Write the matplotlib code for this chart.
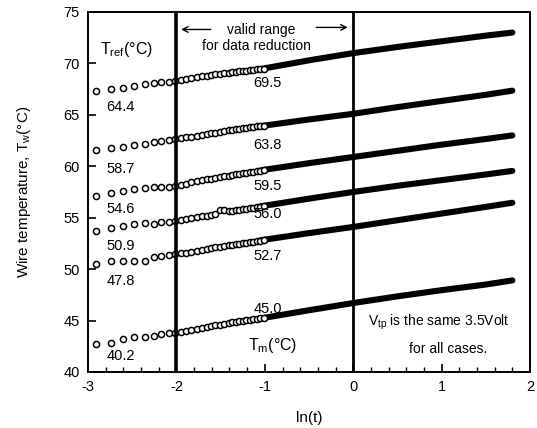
import numpy as np
import matplotlib
matplotlib.use("Agg")
import matplotlib.pyplot as plt

plt.rcParams['font.family'] = ['Liberation Sans', 'DejaVu Sans']
plt.rcParams['mathtext.fontset'] = 'custom'
plt.rcParams['mathtext.rm'] = 'Liberation Sans'
plt.rcParams['mathtext.it'] = 'Liberation Sans'
plt.rcParams['axes.unicode_minus'] = False

# ln(t) positions of the individually visible circles (sparse + overlapping part)
x_circles = [-2.91, -2.74, -2.60, -2.48, -2.36, -2.25, -2.17, -2.09, -2.02,
             -1.95, -1.89, -1.83, -1.77, -1.71, -1.66, -1.61, -1.56, -1.51,
             -1.46, -1.41, -1.37, -1.33, -1.29, -1.25, -1.21, -1.17, -1.13,
             -1.09, -1.05, -1.01]
# ln(t) positions along the dense (solid) band
x_band = [-1.05, -0.5, 0.0, 0.5, 1.0, 1.5, 1.8]

# wire temperature, one list per run (circles part)
tw1_circ = [67.33, 67.47, 67.57, 67.83, 68.0, 68.07, 68.17, 68.2, 68.3,
            68.4, 68.48, 68.55, 68.65, 68.75, 68.8, 68.88, 68.95, 69.0,
            69.05, 69.1, 69.15, 69.2, 69.25, 69.3, 69.3, 69.35, 69.4,
            69.45, 69.48, 69.5]
tw2_circ = [61.57, 61.74, 61.9, 62.06, 62.16, 62.35, 62.48, 62.55, 62.62,
            62.72, 62.8, 62.88, 62.97, 63.05, 63.12, 63.2, 63.27, 63.35,
            63.42, 63.5, 63.55, 63.6, 63.65, 63.7, 63.75, 63.8, 63.85,
            63.88, 63.92, 63.95]
tw3_circ = [57.1, 57.43, 57.62, 57.76, 57.88, 58.0, 58.0, 58.0, 58.08,
            58.2, 58.3, 58.42, 58.52, 58.63, 58.72, 58.8, 58.88, 58.95,
            59.02, 59.1, 59.15, 59.22, 59.28, 59.33, 59.38, 59.43, 59.48,
            59.53, 59.58, 59.62]
tw4_circ = [53.73, 53.96, 54.19, 54.38, 54.45, 54.38, 54.55, 54.6, 54.67,
            54.8, 54.88, 54.95, 55.05, 55.12, 55.2, 55.3, 55.38, 55.7,
            55.72, 55.62, 55.65, 55.7, 55.75, 55.8, 55.85, 55.92, 55.98,
            56.03, 56.08, 56.12]
tw5_circ = [50.5, 50.79, 50.79, 50.82, 50.82, 51.15, 51.27, 51.37, 51.47,
            51.52, 51.58, 51.68, 51.8, 51.9, 51.97, 52.03, 52.1, 52.18,
            52.25, 52.32, 52.38, 52.42, 52.48, 52.53, 52.58, 52.63, 52.68,
            52.72, 52.77, 52.82]
tw6_circ = [42.72, 42.85, 43.18, 43.37, 43.43, 43.5, 43.69, 43.76, 43.82,
            43.92, 43.98, 44.08, 44.2, 44.3, 44.38, 44.45, 44.52, 44.6,
            44.68, 44.75, 44.82, 44.88, 44.93, 44.98, 45.03, 45.08, 45.12,
            45.17, 45.21, 45.25]

# wire temperature along the dense band
tw1_band = [69.45, 70.3, 71.0, 71.6, 72.15, 72.7, 73.0]
tw2_band = [63.9, 64.55, 65.1, 65.75, 66.35, 66.95, 67.35]
tw3_band = [59.6, 60.3, 60.9, 61.5, 62.1, 62.65, 63.0]
tw4_band = [56.1, 56.85, 57.5, 58.1, 58.65, 59.2, 59.55]
tw5_band = [52.8, 53.5, 54.1, 54.75, 55.4, 56.05, 56.45]
tw6_band = [45.2, 46.0, 46.7, 47.35, 47.95, 48.5, 48.9]

t_ref = ['64.4', '58.7', '54.6', '50.9', '47.8', '40.2']
t_ref_y = [65.75, 59.7, 55.84, 52.26, 48.85, 41.55]
t_m = ['69.5', '63.8', '59.5', '56.0', '52.7', '45.0']
t_m_y = [68.1, 62.1, 58.08, 55.35, 51.27, 46.12]

circ_sets = [tw1_circ, tw2_circ, tw3_circ, tw4_circ, tw5_circ, tw6_circ]
band_sets = [tw1_band, tw2_band, tw3_band, tw4_band, tw5_band, tw6_band]

fig = plt.figure(figsize=(5.37, 4.28), dpi=100)
ax = fig.add_axes([0.164, 0.131, 0.823, 0.841])

for yc, yb in zip(circ_sets, band_sets):
    ax.plot(x_band, yb, '-', color='black', lw=4.4, solid_capstyle='round')
    ax.plot(x_circles, yc, 'o', mfc='white', mec='black', ms=4.4, mew=1.1)

# boundaries of the valid range
ax.axvline(-2, color='black', lw=2.6)
ax.axvline(0, color='black', lw=2.0)

# labels next to each run
for lab, y in zip(t_ref, t_ref_y):
    ax.text(-2.79, y, lab, fontsize=10.5, va='center', ha='left')
for lab, y in zip(t_m, t_m_y):
    ax.text(-1.13, y, lab, fontsize=10.5, va='center', ha='left')

ax.text(-2.86, 71.4, r'T$_{\rm ref}$(°C)', fontsize=11.5, va='center', ha='left')
ax.text(-1.19, 42.6, r'T$_{\rm m}$(°C)', fontsize=11.5, va='center', ha='left')

ax.text(-1.04, 73.2, 'valid range', fontsize=10, va='center', ha='center')
ax.text(-1.09, 71.7, 'for data reduction', fontsize=10, va='center', ha='center')
ax.annotate('', xy=(-1.98, 73.3), xytext=(-1.58, 73.3),
            arrowprops=dict(arrowstyle='->', color='black', lw=1.0))
ax.annotate('', xy=(-0.03, 73.5), xytext=(-0.45, 73.5),
            arrowprops=dict(arrowstyle='->', color='black', lw=1.0))

ax.text(0.17, 44.86, r'V$_{\rm tp}$ is the same 3.5Volt', fontsize=10,
        va='center', ha='left')
ax.text(1.07, 42.24, 'for all cases.', fontsize=10, va='center', ha='center')

ax.set_xlim(-3, 2)
ax.set_ylim(40, 75)
ax.set_xticks([-3, -2, -1, 0, 1, 2])
ax.set_yticks([40, 45, 50, 55, 60, 65, 70, 75])
ax.set_xticks(np.arange(-3, 2.01, 0.2), minor=True)
ax.tick_params(axis='both', which='major', direction='in', length=6,
               width=1.2, labelsize=10.5, pad=6)
ax.tick_params(axis='x', which='minor', direction='in', length=3.5, width=1.0)
for s in ax.spines.values():
    s.set_linewidth(1.4)

ax.set_xlabel('ln(t)', fontsize=11, labelpad=12)
ax.set_ylabel(r'Wire temperature, T$_{\rm w}$(°C)', fontsize=11, labelpad=22)

fig.savefig('out.png', dpi=100)
